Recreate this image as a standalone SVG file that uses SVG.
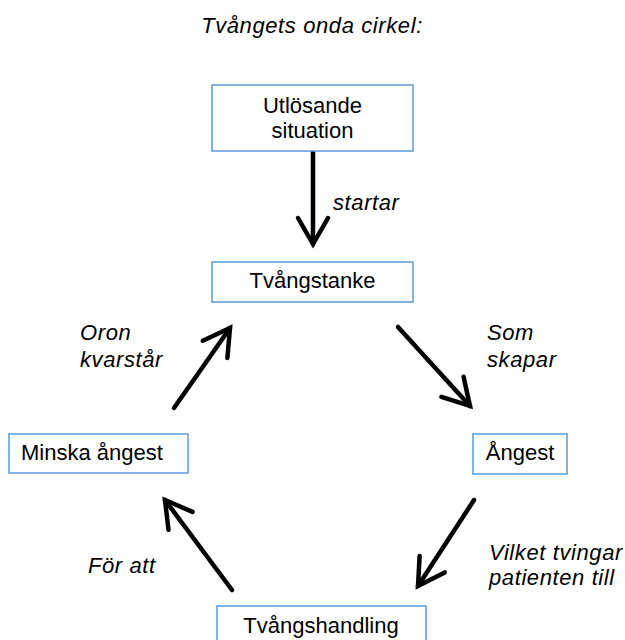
<svg xmlns="http://www.w3.org/2000/svg" width="625" height="640" viewBox="0 0 625 640">
<defs>
<style>
.box{fill:#ffffff;stroke:#5b9bd5;stroke-width:1.5}
.t{font-family:"Liberation Sans",Arial,sans-serif;font-size:22px;fill:#000000}
.c{text-anchor:middle}
.i{font-style:italic;letter-spacing:0.6px}
.arr{stroke:#000000;stroke-width:4.5;fill:none;stroke-linecap:round;marker-end:url(#head)}
</style>
<marker id="head" markerUnits="userSpaceOnUse" markerWidth="40" markerHeight="40" refX="0" refY="0" orient="auto" overflow="visible">
<path d="M-26,-15 L0,0 L-26,15" fill="none" stroke="#000000" stroke-width="4.5" stroke-linecap="round" stroke-linejoin="miter"/>
</marker>
</defs>
<rect width="625" height="640" fill="#ffffff"/>
<text class="t i c" x="312" y="33">Tvångets onda cirkel:</text>
<g id="connectors">
<line class="arr" x1="313" y1="152" x2="313" y2="244"/>
<line class="arr" x1="398" y1="327" x2="470" y2="406"/>
<line class="arr" x1="174" y1="408" x2="230" y2="328"/>
<line class="arr" x1="474" y1="500" x2="418" y2="586"/>
<line class="arr" x1="232" y1="590" x2="165" y2="500"/>
<text class="t i" x="333" y="210">startar</text>
<text class="t i" x="487" y="340">Som</text>
<text class="t i" x="487" y="367">skapar</text>
<text class="t i" x="80" y="340">Oron</text>
<text class="t i" x="80" y="367">kvarstår</text>
<text class="t i" x="88" y="573">För att</text>
<text class="t i" x="489" y="560">Vilket tvingar</text>
<text class="t i" x="489" y="585">patienten till</text>
</g>
<g id="utlosande">
<rect class="box" x="212" y="85" width="201" height="66"/>
<text class="t c" x="312.5" y="113">Utlösande</text>
<text class="t c" x="312.5" y="138">situation</text>
</g>
<g id="tvangstanke">
<rect class="box" x="212" y="262" width="201" height="40"/>
<text class="t c" x="312.5" y="288">Tvångstanke</text>
</g>
<g id="minska">
<rect class="box" x="9" y="434" width="179" height="39"/>
<text class="t" x="21" y="460">Minska ångest</text>
</g>
<g id="angest">
<rect class="box" x="473" y="434" width="94" height="40"/>
<text class="t c" x="520" y="460">Ångest</text>
</g>
<g id="tvangshandling">
<rect class="box" x="217" y="606" width="209" height="50"/>
<text class="t c" x="321" y="633">Tvångshandling</text>
</g>
</svg>
